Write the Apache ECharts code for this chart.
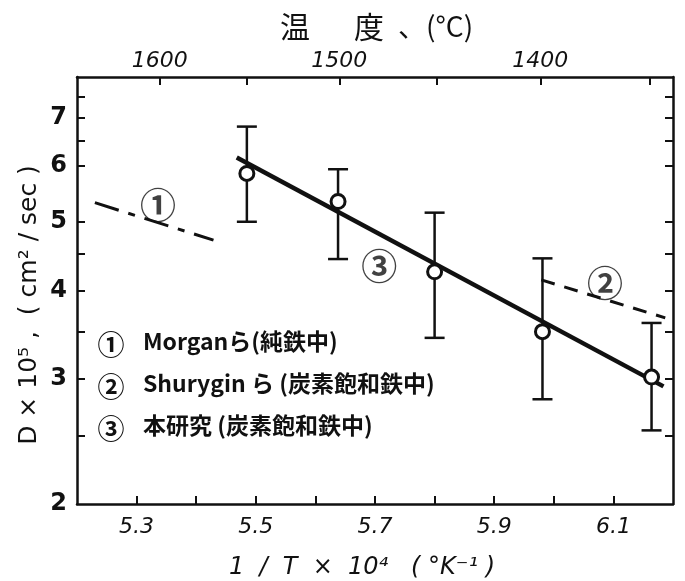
<!DOCTYPE html>
<html><head><meta charset="utf-8">
<script src="https://cdn.jsdelivr.net/npm/echarts@6/dist/echarts.min.js"></script>
<style>html,body{margin:0;padding:0;background:#fff}#c{width:685px;height:581px}</style>
</head><body><div id="c"></div>
<script>
// 1/T x 10^4 (K^-1) of the measured points (this study, ③)
const invT = [5.485, 5.638, 5.800, 5.981, 6.164];
// D x 10^5 (cm2/sec): mean, upper and lower ends of error bars
const dMean = [5.85, 5.34, 4.25, 3.50, 3.02];
const dHigh = [6.81, 5.93, 5.15, 4.44, 3.60];
const dLow  = [5.00, 4.43, 3.43, 2.81, 2.54];
// fitted line ③ (this study)
const line3X = [5.468, 6.184];
const line3Y = [6.16, 2.93];
// ① Morgan et al. (pure iron)
const line1X = [5.230, 5.429];
const line1Y = [5.32, 4.71];
// ② Shurygin et al. (carbon-saturated iron)
const line2X = [5.979, 6.187];
const line2Y = [4.14, 3.66];
// in-plot marker labels (data coordinates)
const tagText = ['①', '②', '③'];
const tagX = [5.336, 6.086, 5.707];
const tagY = [5.28, 4.10, 4.32];
// axes ticks and labels
const xTicks = [5.3, 5.4, 5.5, 5.6, 5.7, 5.8, 5.9, 6.0, 6.1];
const xLabels = [5.3, 5.5, 5.7, 5.9, 6.1];
const yTicks = [2.5, 3, 3.5, 4, 4.5, 5, 6, 6.5, 7, 7.5];
const yLabels = [2, 3, 4, 5, 6, 7];
const tempTicks = [1600, 1550, 1500, 1450, 1400, 1350];
const tempLabels = [1600, 1500, 1400];
const legendMarks = ['①', '②', '③'];
const legendTexts = ['Morganら(純鉄中)', 'Shurygin ら (炭素飽和鉄中)', '本研究 (炭素飽和鉄中)'];

const K0 = 273;
const toInv = t => 1e4 / (t + K0);
const pairs = (xs, ys) => xs.map((x, i) => [x, ys[i]]);

const chart = echarts.init(document.getElementById('c'), null, {renderer: 'canvas'});
const ink = '#111';
const tickFont = {fontFamily: 'DejaVu Sans', fontStyle: 'italic', fontSize: 21, color: ink};
const cjk = '"Noto Sans CJK JP", "DejaVu Sans", sans-serif';

const xBase = {
  type: 'value', min: 5.2, max: 6.2, splitLine: {show: false},
  axisLine: {show: true, lineStyle: {color: ink, width: 2.5}}
};
const yBase = {
  type: 'log', logBase: 10, min: 2, max: 8, splitLine: {show: false},
  axisLine: {show: true, lineStyle: {color: ink, width: 2.5}},
  axisTick: {show: true, inside: true, length: 8, customValues: yTicks, lineStyle: {color: ink, width: 2}}
};

const option = {
  animation: false,
  backgroundColor: '#fff',
  grid: {left: 77, right: 12, top: 77, bottom: 77},
  xAxis: [
    Object.assign({}, xBase, {
      position: 'bottom',
      axisTick: {show: true, inside: true, length: 8, customValues: xTicks, lineStyle: {color: ink, width: 2}},
      axisLabel: Object.assign({customValues: xLabels, margin: 12, formatter: v => v.toFixed(1)}, tickFont, {fontSize: 22})
    }),
    Object.assign({}, xBase, {
      position: 'top',
      axisTick: {show: true, inside: true, length: 8, customValues: tempTicks.map(toInv), lineStyle: {color: ink, width: 2}},
      axisLabel: Object.assign({customValues: tempLabels.map(toInv), margin: 5,
        formatter: v => String(Math.round(1e4 / v - K0))}, tickFont, {fontSize: 22})
    })
  ],
  yAxis: [
    Object.assign({}, yBase, {
      position: 'left',
      axisLabel: {customValues: yLabels, margin: 10, fontFamily: 'DejaVu Sans', fontWeight: 'bold', fontSize: 24, color: ink,
        formatter: v => String(Math.round(v))}
    }),
    Object.assign({}, yBase, {position: 'right', axisLabel: {show: false}})
  ],
  graphic: [
    {type: 'text', left: 280, top: 12, style: {text: '温', font: '30px ' + cjk, fill: ink}},
    {type: 'text', left: 354, top: 12, style: {text: '度', font: '30px ' + cjk, fill: ink}},
    {type: 'text', left: 398, top: 12, style: {text: '、(°C)', font: '28px ' + cjk, fill: ink}},
    {type: 'text', x: 362, y: 568, style: {text: '1  /  T  ×  10⁴   ( °K⁻¹ )', font: 'italic 24px "DejaVu Sans"', fill: ink, align: 'center', verticalAlign: 'middle'}},
    {type: 'text', x: 29, y: 305, rotation: Math.PI / 2,
      style: {text: 'D × 10⁵ ,  ( cm² / sec )', font: '25px "DejaVu Sans"', fill: ink, align: 'center', verticalAlign: 'middle'}}
  ].concat(legendMarks.map((m, i) => ({
    type: 'text', x: 111, y: 345 + i * 42, style: {text: m, font: 'bold 27px ' + cjk, fill: ink, align: 'center', verticalAlign: 'middle'}
  }))).concat(legendTexts.map((t, i) => ({
    type: 'text', left: 143, top: 330 + i * 42, style: {text: t, font: 'bold 23px ' + cjk, fill: ink}
  }))),
  series: [
    {
      type: 'custom', xAxisIndex: 0, yAxisIndex: 0, z: 2,
      data: invT.map((x, i) => [x, dLow[i], dHigh[i]]),
      renderItem: (params, api) => {
        const x = api.value(0);
        const lo = api.coord([x, api.value(1)]);
        const hi = api.coord([x, api.value(2)]);
        const cap = 10;
        const st = {stroke: ink, lineWidth: 2.5};
        return {type: 'group', children: [
          {type: 'line', shape: {x1: lo[0], y1: lo[1], x2: hi[0], y2: hi[1]}, style: st},
          {type: 'line', shape: {x1: lo[0] - cap, y1: lo[1], x2: lo[0] + cap, y2: lo[1]}, style: st},
          {type: 'line', shape: {x1: hi[0] - cap, y1: hi[1], x2: hi[0] + cap, y2: hi[1]}, style: st}
        ]};
      }
    },
    {type: 'line', data: pairs(line3X, line3Y), symbol: 'none', z: 3,
      lineStyle: {color: ink, width: 4.5}},
    {type: 'line', data: pairs(line1X, line1Y), symbol: 'none', z: 3,
      lineStyle: {color: ink, width: 3, type: [25, 10, 7, 10]}},
    {type: 'line', data: pairs(line2X, line2Y), symbol: 'none', z: 3,
      lineStyle: {color: ink, width: 3, type: [14, 10]}},
    {type: 'scatter', data: pairs(invT, dMean), z: 4, symbol: 'circle', symbolSize: 14,
      itemStyle: {color: '#fff', opacity: 1, borderColor: ink, borderWidth: 3}},
    {type: 'scatter', data: tagX.map((x, i) => [x, tagY[i], tagText[i]]), z: 5, symbolSize: 0,
      label: {show: true, position: 'inside', formatter: p => p.value[2], fontFamily: cjk, fontSize: 36, fontWeight: 'bold', color: ink}}
  ]
};
chart.setOption(option);
</script>
</body></html>
